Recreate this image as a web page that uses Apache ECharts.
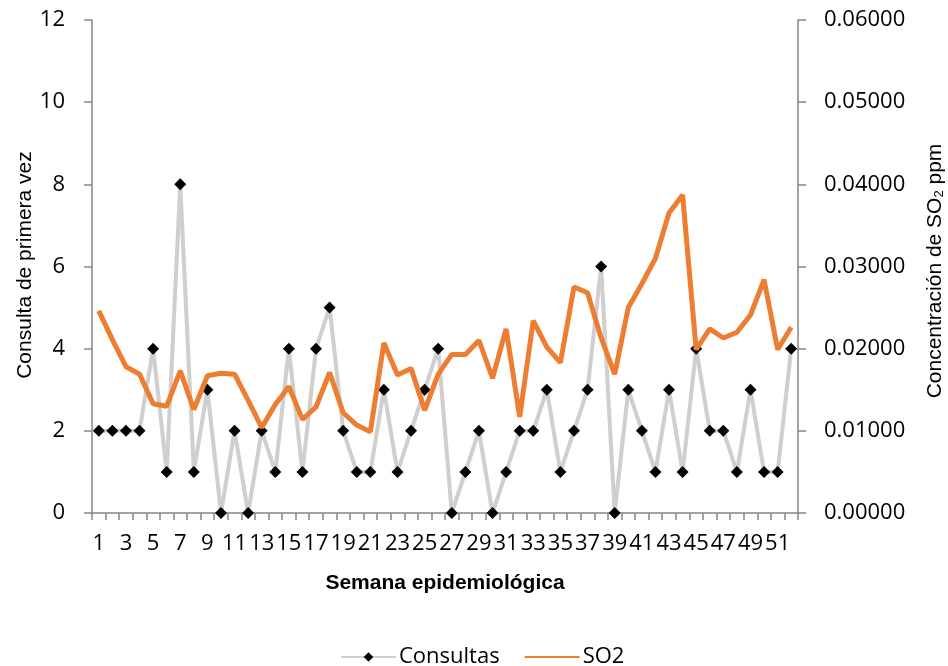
<!DOCTYPE html>
<html>
<head>
<meta charset="utf-8">
<script src="https://cdn.jsdelivr.net/npm/echarts@6/dist/echarts.min.js"></script>
<style>
  html, body { margin: 0; padding: 0; background: #fff; }
  #chart { width: 948px; height: 666px; }
</style>
</head>
<body>
<div id="chart"></div>
<script>
// Epidemiological weeks 1..52
const weeks = [];
for (let w = 1; w <= 52; w++) weeks.push(String(w));

// First-time consultations per week
const consultas = [2, 2, 2, 2, 4, 1, 8, 1, 3, 0, 2, 0, 2, 1, 4, 1, 4, 5, 2, 1,
                   1, 3, 1, 2, 3, 4, 0, 1, 2, 0, 1, 2, 2, 3, 1, 2, 3, 6, 0, 3,
                   2, 1, 3, 1, 4, 2, 2, 1, 3, 1, 1, 4];

// Weekly SO2 concentration (ppm)
const so2 = [0.0246, 0.0211, 0.0178, 0.0169, 0.0133, 0.0130, 0.0173, 0.0126, 0.0167, 0.0170,
             0.0169, 0.0137, 0.0104, 0.0132, 0.0154, 0.0114, 0.0129, 0.0171, 0.0122, 0.0107,
             0.0099, 0.0207, 0.0168, 0.0176, 0.0125, 0.0169, 0.0193, 0.0193, 0.0210, 0.0164,
             0.0224, 0.0117, 0.0234, 0.0202, 0.0183, 0.0275, 0.0268, 0.0213, 0.0169, 0.0250,
             0.0279, 0.0310, 0.0365, 0.0387, 0.0199, 0.0224, 0.0213, 0.0220, 0.0241, 0.0284,
             0.0199, 0.0226];

const tickFont = "'Open Sans', sans-serif";
const titleFont = "'Liberation Sans', Arial, sans-serif";
const axisGray = '#868686';

const chart = echarts.init(document.getElementById('chart'), null, { renderer: 'canvas' });

chart.setOption({
  animation: false,
  backgroundColor: '#fff',
  grid: { left: 92, right: 150, top: 20, bottom: 153, containLabel: false },
  legend: {
    left: 335,
    top: 641,
    itemWidth: 55,
    itemHeight: 12,
    itemGap: 24,
    textStyle: { fontFamily: tickFont, fontSize: 22, color: '#000', padding: [0, 0, 0, -2] },
    data: [
      { name: 'Consultas' },
      { name: 'SO2', itemStyle: { opacity: 0 } }
    ]
  },
  xAxis: {
    type: 'category',
    data: weeks,
    boundaryGap: true,
    axisLine: { lineStyle: { color: axisGray, width: 1.5 } },
    axisTick: { show: true, length: 7, interval: 0, lineStyle: { color: axisGray, width: 1.5 } },
    axisLabel: { interval: 1, margin: 20, color: '#000', fontFamily: tickFont, fontSize: 22 },
    splitLine: { show: false }
  },
  yAxis: [
    {
      type: 'value',
      min: 0, max: 12, interval: 2,
      axisLine: { show: true, lineStyle: { color: axisGray, width: 1.5 } },
      axisTick: { show: true, length: 8, lineStyle: { color: axisGray, width: 1.5 } },
      axisLabel: { margin: 27, color: '#000', fontFamily: tickFont, fontSize: 22 },
      splitLine: { show: false }
    },
    {
      type: 'value',
      min: 0, max: 0.06, interval: 0.01,
      position: 'right',
      axisLine: { show: true, lineStyle: { color: axisGray, width: 1.5 } },
      axisTick: { show: true, length: 8, lineStyle: { color: axisGray, width: 1.5 } },
      axisLabel: {
        margin: 26, color: '#000', fontFamily: tickFont, fontSize: 22,
        formatter: v => v.toFixed(5)
      },
      splitLine: { show: false }
    }
  ],
  graphic: [
    {
      type: 'text',
      x: 25, y: 265,
      rotation: Math.PI / 2,
      style: {
        text: 'Consulta de primera vez',
        fontFamily: titleFont, fontSize: 21, fill: '#000',
        align: 'center', verticalAlign: 'middle'
      }
    },
    {
      type: 'text',
      x: 935, y: 271,
      rotation: Math.PI / 2,
      style: {
        text: 'Concentración de SO{sub|2} ppm',
        fontFamily: titleFont, fontSize: 21, fill: '#000',
        align: 'center', verticalAlign: 'middle',
        rich: {
          sub: { fontFamily: titleFont, fontSize: 13, fill: '#000', padding: [0, 0, -9, 0] }
        }
      }
    },
    {
      type: 'text',
      x: 445, y: 583,
      style: {
        text: 'Semana epidemiológica',
        fontFamily: titleFont, fontSize: 21, fontWeight: 'bold', fill: '#000',
        align: 'center', verticalAlign: 'middle'
      }
    }
  ],
  series: [
    {
      name: 'Consultas',
      type: 'line',
      yAxisIndex: 0,
      data: consultas,
      z: 2,
      symbol: 'diamond',
      symbolSize: 12,
      showAllSymbol: true,
      lineStyle: { color: '#D0CECE', width: 4 },
      itemStyle: { color: '#000', borderWidth: 0 }
    },
    {
      name: 'SO2',
      type: 'line',
      yAxisIndex: 1,
      data: so2,
      z: 3,
      symbol: 'none',
      lineStyle: { color: '#ED7D31', width: 5 },
      itemStyle: { color: '#ED7D31' }
    }
  ]
});
</script>
</body>
</html>
